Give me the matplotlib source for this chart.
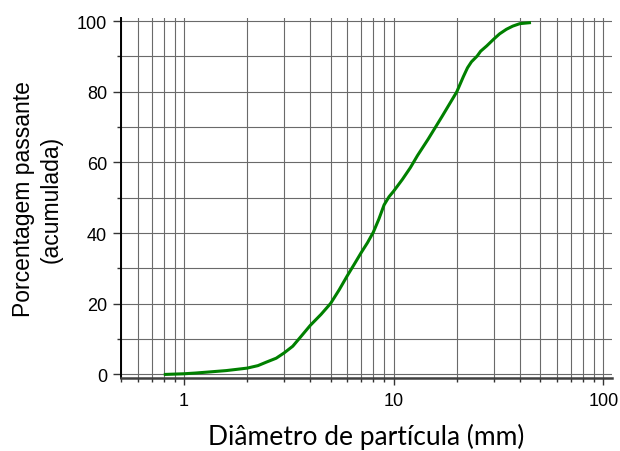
import numpy as np
import matplotlib
matplotlib.use("Agg")
import matplotlib.pyplot as plt
from matplotlib.ticker import LogLocator, FixedLocator, NullFormatter, FuncFormatter

# curva granulometrica
diametro = [0.80, 1.0, 1.13, 1.28, 1.59, 2.0, 2.25, 2.47, 2.75, 3.0, 3.3, 3.57, 4.0,
            4.5, 5.0, 5.5, 6.0, 6.5, 7.0, 7.5, 8.0, 8.5, 9.0, 9.5, 10.0, 11.0,
            12.0, 13.0, 14.6, 17.0, 20.0, 21.5, 22.5, 23.5, 25.0, 26.0, 27.8, 30.0, 32.0,
            34.5, 37.0, 40.0, 45.2]
passante = [0.0, 0.2, 0.4, 0.65, 1.1, 1.8, 2.5, 3.5, 4.6, 6.1, 8.0, 10.4, 13.9,
            17.0, 20.1, 24.0, 27.9, 31.3, 34.5, 37.3, 40.3, 44.0, 48.0, 50.3, 51.9, 55.2,
            58.5, 62.0, 66.6, 73.0, 80.0, 84.3, 86.8, 88.5, 90.1, 91.5, 93.0, 94.9, 96.4,
            97.7, 98.6, 99.3, 99.6]

fig = plt.figure(figsize=(6.2, 4.52), dpi=100)
ax = fig.add_axes([0.1952, 0.1615, 0.7918, 0.7965])

ax.plot(diametro, passante, color='#008000', lw=2.2, solid_capstyle='butt',
        solid_joinstyle='round', zorder=3)

ax.set_xscale('log')
ax.set_xlim(0.5, 110)
ax.set_ylim(-1.0, 100.9)

ax.xaxis.set_major_locator(FixedLocator([1, 10, 100]))
ax.xaxis.set_minor_locator(LogLocator(base=10, subs=np.arange(2, 10), numticks=20))
ax.xaxis.set_major_formatter(FuncFormatter(lambda v, p: f'{v:g}'))
ax.xaxis.set_minor_formatter(NullFormatter())
ax.set_yticks([0, 20, 40, 60, 80, 100])
ax.set_yticks([10, 30, 50, 70, 90], minor=True)

ax.grid(True, which='both', color='#6a6a6a', lw=0.8)
ax.set_axisbelow(True)

for s in ['top', 'right']:
    ax.spines[s].set_visible(False)
ax.spines['left'].set_color('black')
ax.spines['left'].set_linewidth(1.4)
ax.spines['bottom'].set_color('#404040')
ax.spines['bottom'].set_linewidth(1.8)

ax.tick_params(axis='both', which='major', labelsize=13, colors='#333333', labelcolor='black')
ax.tick_params(axis='x', which='major', length=5, width=1, pad=5)
ax.tick_params(axis='x', which='minor', length=3, width=1, colors='#333333')
ax.tick_params(axis='y', which='major', length=6, width=1, pad=4)
ax.tick_params(axis='y', which='minor', length=3, width=1, colors='#333333')
for lab in ax.get_xticklabels() + ax.get_yticklabels():
    lab.set_fontfamily('Liberation Sans')

ax.set_xlabel('Diâmetro de partícula (mm)', fontsize=19, family='Lato', labelpad=10)
ax.set_ylabel('Porcentagem passante\n(acumulada)', fontsize=16.5, family='Liberation Sans',
              linespacing=1.3, labelpad=10)

fig.savefig('out.png', dpi=100)
